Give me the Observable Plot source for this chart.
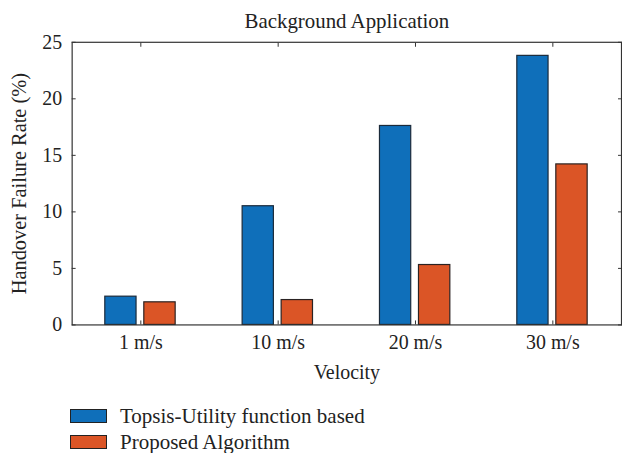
<!DOCTYPE html>
<html>
<head>
<meta charset="utf-8">
<script src="https://cdn.jsdelivr.net/npm/d3@7"></script>
<script src="https://cdn.jsdelivr.net/npm/@observablehq/plot@0.6"></script>
<style>
  html, body { margin: 0; padding: 0; overflow: hidden; background: #fff; width: 622px; height: 453px; }
  #chart { position: absolute; left: 0; top: 0; }
  .legend { position: absolute; left: 70px; top: 409px; font-family: "Liberation Serif", serif; font-size: 21px; color: #222; }
  .row { display: flex; align-items: center; height: 14px; margin-bottom: 12px; }
  .sw { width: 35px; height: 12px; border: 1px solid #222; margin-right: 13px; }
</style>
</head>
<body>
<div id="chart"></div>
<div class="legend" id="legend"></div>
<script>
const categories = ["1 m/s", "10 m/s", "20 m/s", "30 m/s"];
const seriesNames = ["Topsis-Utility function based", "Proposed Algorithm"];
const topsisValues = [2.5, 10.5, 17.6, 23.8];
const proposedValues = [2.0, 2.2, 5.3, 14.2];
const seriesColors = ["#0F6FBA", "#DB5526"];
const yTicks = [0, 5, 10, 15, 20, 25];

const data = categories.flatMap((c, i) => [
  {velocity: c, series: seriesNames[0], value: topsisValues[i]},
  {velocity: c, series: seriesNames[1], value: proposedValues[i]}
]);

const font = "Liberation Serif, serif";
const chart = Plot.plot({
  width: 625,
  height: 390,
  marginTop: 42,
  marginBottom: 64,
  marginLeft: 72,
  marginRight: 1,
  style: {fontFamily: font, fontSize: "20px", color: "#222", background: "transparent"},
  x: {domain: categories, padding: 0},
  y: {domain: [0, 25]},
  color: {domain: seriesNames, range: seriesColors},
  marks: [
    Plot.barY(data.filter(d => d.series === seriesNames[0]), {x: "velocity", y: "value", fill: "series", stroke: "#1b2a3a", strokeWidth: 1.2, insetLeft: 33.3, insetRight: 73.3}),
    Plot.barY(data.filter(d => d.series === seriesNames[1]), {x: "velocity", y: "value", fill: "series", stroke: "#2a2222", strokeWidth: 1.2, insetLeft: 72.5, insetRight: 34}),
    Plot.frame({stroke: "#333", strokeWidth: 1.2}),
    Plot.axisX({anchor: "bottom", tickSize: 0, tickPadding: 10, label: "Velocity", labelAnchor: "center", labelOffset: 54, fontSize: 20}),
    Plot.axisX({anchor: "bottom", tickSize: -4, tickFormat: () => "", label: null, stroke: "#333"}),
    Plot.axisX({anchor: "top", tickSize: -4, tickFormat: () => "", label: null, stroke: "#333"}),
    Plot.axisY({anchor: "left", ticks: yTicks, tickSize: 0, tickPadding: 10, label: null, fontSize: 20}),
    Plot.axisY({anchor: "left", ticks: yTicks, tickSize: -4, tickFormat: () => "", label: null, stroke: "#333"}),
    Plot.axisY({anchor: "right", ticks: yTicks, tickSize: -4, tickFormat: () => "", label: null, stroke: "#333"}),
    Plot.text(["Handover Failure Rate (%)"], {frameAnchor: "left", rotate: -90, textAnchor: "middle", dx: -53, fontSize: 20.5, fill: "#222"}),
    Plot.text(["Background Application"], {frameAnchor: "top", dy: -29, fontSize: 21, fill: "#222"})
  ]
});
document.getElementById("chart").appendChild(chart);

const legend = document.getElementById("legend");
seriesNames.forEach((name, i) => {
  const row = document.createElement("div");
  row.className = "row";
  const sw = document.createElement("div");
  sw.className = "sw";
  sw.style.background = seriesColors[i];
  const label = document.createElement("span");
  label.textContent = name;
  row.appendChild(sw);
  row.appendChild(label);
  legend.appendChild(row);
});
</script>
</body>
</html>
